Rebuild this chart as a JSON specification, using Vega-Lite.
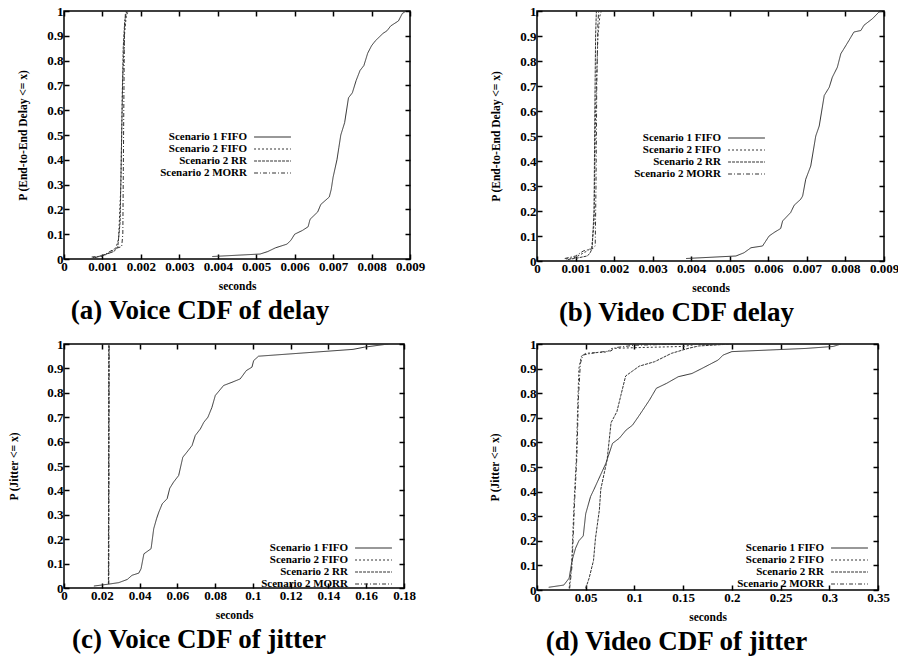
{
"$schema": "https://vega.github.io/schema/vega-lite/v6.json",
"padding": {"left": 8, "top": 4, "right": 0, "bottom": 0},
"background": "white",
"config": {
  "view": {"stroke": "#000", "strokeWidth": 1.5},
  "axis": {"labelFont": "Liberation Serif", "labelFontWeight": "bold", "labelFontSize": 13, "labelColor": "#000", "labelOverlap": false, "labelFlush": false, "titleFont": "Liberation Serif", "titleFontWeight": "bold", "titleFontSize": 11.5, "titleColor": "#000", "domain": false, "grid": false, "tickColor": "#000", "tickWidth": 1.5, "tickSize": -5, "labelPadding": 6},
  "axisY": {"titlePadding": 18},
  "axisX": {"titlePadding": 7},
  "title": {"font": "Liberation Serif", "fontWeight": "bold", "fontSize": 27, "color": "#000"},
  "legend": {"title": null, "orient": "none", "labelAlign": "right", "labelOffset": -31, "symbolType": "M-4.1,0H4.1", "symbolSize": 81, "symbolStrokeWidth": 1.2, "symbolStrokeColor": "#333333", "symbolFillColor": "transparent", "symbolOpacity": 1, "rowPadding": 0, "padding": 0, "labelFont": "Liberation Serif", "labelFontWeight": "bold", "labelFontSize": 11, "labelColor": "#000", "labelLimit": 300}
},
"datasets": {
"a": [
{"s":"Scenario 1 FIFO","x":0.00386,"y":0.01},{"s":"Scenario 1 FIFO","x":0.0051,"y":0.02},{"s":"Scenario 1 FIFO","x":0.0053,"y":0.03},{"s":"Scenario 1 FIFO","x":0.0055,"y":0.045},{"s":"Scenario 1 FIFO","x":0.0058,"y":0.06},{"s":"Scenario 1 FIFO","x":0.0059,"y":0.075},{"s":"Scenario 1 FIFO","x":0.006,"y":0.1},{"s":"Scenario 1 FIFO","x":0.0062,"y":0.115},{"s":"Scenario 1 FIFO","x":0.00635,"y":0.13},{"s":"Scenario 1 FIFO","x":0.0064,"y":0.16},{"s":"Scenario 1 FIFO","x":0.0066,"y":0.19},{"s":"Scenario 1 FIFO","x":0.00668,"y":0.22},{"s":"Scenario 1 FIFO","x":0.0069,"y":0.25},{"s":"Scenario 1 FIFO","x":0.00695,"y":0.28},{"s":"Scenario 1 FIFO","x":0.007,"y":0.33},{"s":"Scenario 1 FIFO","x":0.0071,"y":0.4},{"s":"Scenario 1 FIFO","x":0.00715,"y":0.45},{"s":"Scenario 1 FIFO","x":0.0072,"y":0.5},{"s":"Scenario 1 FIFO","x":0.0073,"y":0.55},{"s":"Scenario 1 FIFO","x":0.0074,"y":0.65},{"s":"Scenario 1 FIFO","x":0.0075,"y":0.67},{"s":"Scenario 1 FIFO","x":0.0076,"y":0.72},{"s":"Scenario 1 FIFO","x":0.0077,"y":0.76},{"s":"Scenario 1 FIFO","x":0.0078,"y":0.78},{"s":"Scenario 1 FIFO","x":0.0079,"y":0.83},{"s":"Scenario 1 FIFO","x":0.008,"y":0.86},{"s":"Scenario 1 FIFO","x":0.0081,"y":0.88},{"s":"Scenario 1 FIFO","x":0.0083,"y":0.91},{"s":"Scenario 1 FIFO","x":0.0084,"y":0.92},{"s":"Scenario 1 FIFO","x":0.0085,"y":0.94},{"s":"Scenario 1 FIFO","x":0.0087,"y":0.96},{"s":"Scenario 1 FIFO","x":0.0088,"y":0.99},{"s":"Scenario 1 FIFO","x":0.0089,"y":1.0},
{"s":"Scenario 2 FIFO","x":0.00075,"y":0.006},{"s":"Scenario 2 FIFO","x":0.001,"y":0.012},{"s":"Scenario 2 FIFO","x":0.0012,"y":0.025},{"s":"Scenario 2 FIFO","x":0.00135,"y":0.045},{"s":"Scenario 2 FIFO","x":0.00142,"y":0.08},{"s":"Scenario 2 FIFO","x":0.00148,"y":0.3},{"s":"Scenario 2 FIFO","x":0.00152,"y":0.7},{"s":"Scenario 2 FIFO","x":0.00158,"y":0.92},{"s":"Scenario 2 FIFO","x":0.00162,"y":0.98},{"s":"Scenario 2 FIFO","x":0.00167,"y":1.0},
{"s":"Scenario 2 RR","x":0.0008,"y":0.005},{"s":"Scenario 2 RR","x":0.001,"y":0.015},{"s":"Scenario 2 RR","x":0.0013,"y":0.03},{"s":"Scenario 2 RR","x":0.0014,"y":0.05},{"s":"Scenario 2 RR","x":0.00146,"y":0.15},{"s":"Scenario 2 RR","x":0.0015,"y":0.5},{"s":"Scenario 2 RR","x":0.00154,"y":0.85},{"s":"Scenario 2 RR","x":0.00158,"y":0.96},{"s":"Scenario 2 RR","x":0.00163,"y":1.0},
{"s":"Scenario 2 MORR","x":0.00072,"y":0.008},{"s":"Scenario 2 MORR","x":0.001,"y":0.012},{"s":"Scenario 2 MORR","x":0.0013,"y":0.04},{"s":"Scenario 2 MORR","x":0.0015,"y":0.05},{"s":"Scenario 2 MORR","x":0.00153,"y":0.1},{"s":"Scenario 2 MORR","x":0.00155,"y":0.5},{"s":"Scenario 2 MORR","x":0.00157,"y":0.9},{"s":"Scenario 2 MORR","x":0.0016,"y":1.0}
],
"b": [
{"s":"Scenario 1 FIFO","x":0.00387,"y":0.01},{"s":"Scenario 1 FIFO","x":0.00516,"y":0.02},{"s":"Scenario 1 FIFO","x":0.00537,"y":0.033},{"s":"Scenario 1 FIFO","x":0.00555,"y":0.053},{"s":"Scenario 1 FIFO","x":0.00585,"y":0.06},{"s":"Scenario 1 FIFO","x":0.00602,"y":0.1},{"s":"Scenario 1 FIFO","x":0.00615,"y":0.114},{"s":"Scenario 1 FIFO","x":0.00632,"y":0.13},{"s":"Scenario 1 FIFO","x":0.00637,"y":0.16},{"s":"Scenario 1 FIFO","x":0.00658,"y":0.194},{"s":"Scenario 1 FIFO","x":0.00667,"y":0.223},{"s":"Scenario 1 FIFO","x":0.00684,"y":0.247},{"s":"Scenario 1 FIFO","x":0.00689,"y":0.26},{"s":"Scenario 1 FIFO","x":0.00697,"y":0.327},{"s":"Scenario 1 FIFO","x":0.0071,"y":0.38},{"s":"Scenario 1 FIFO","x":0.00723,"y":0.5},{"s":"Scenario 1 FIFO","x":0.00732,"y":0.54},{"s":"Scenario 1 FIFO","x":0.00745,"y":0.662},{"s":"Scenario 1 FIFO","x":0.00758,"y":0.695},{"s":"Scenario 1 FIFO","x":0.00766,"y":0.735},{"s":"Scenario 1 FIFO","x":0.00779,"y":0.775},{"s":"Scenario 1 FIFO","x":0.00788,"y":0.829},{"s":"Scenario 1 FIFO","x":0.00796,"y":0.849},{"s":"Scenario 1 FIFO","x":0.00809,"y":0.882},{"s":"Scenario 1 FIFO","x":0.00822,"y":0.916},{"s":"Scenario 1 FIFO","x":0.0084,"y":0.922},{"s":"Scenario 1 FIFO","x":0.00848,"y":0.943},{"s":"Scenario 1 FIFO","x":0.0087,"y":0.969},{"s":"Scenario 1 FIFO","x":0.00887,"y":0.996},{"s":"Scenario 1 FIFO","x":0.00896,"y":1.0},
{"s":"Scenario 2 FIFO","x":0.00075,"y":0.008},{"s":"Scenario 2 FIFO","x":0.001,"y":0.015},{"s":"Scenario 2 FIFO","x":0.0013,"y":0.04},{"s":"Scenario 2 FIFO","x":0.00142,"y":0.055},{"s":"Scenario 2 FIFO","x":0.00148,"y":0.15},{"s":"Scenario 2 FIFO","x":0.00152,"y":0.6},{"s":"Scenario 2 FIFO","x":0.00158,"y":0.9},{"s":"Scenario 2 FIFO","x":0.00163,"y":0.98},{"s":"Scenario 2 FIFO","x":0.00167,"y":1.0},
{"s":"Scenario 2 RR","x":0.0008,"y":0.006},{"s":"Scenario 2 RR","x":0.00105,"y":0.012},{"s":"Scenario 2 RR","x":0.0013,"y":0.02},{"s":"Scenario 2 RR","x":0.00137,"y":0.03},{"s":"Scenario 2 RR","x":0.00143,"y":0.05},{"s":"Scenario 2 RR","x":0.00148,"y":0.2},{"s":"Scenario 2 RR","x":0.0015,"y":0.6},{"s":"Scenario 2 RR","x":0.00152,"y":0.9},{"s":"Scenario 2 RR","x":0.00154,"y":1.0},
{"s":"Scenario 2 MORR","x":0.00072,"y":0.01},{"s":"Scenario 2 MORR","x":0.001,"y":0.02},{"s":"Scenario 2 MORR","x":0.0012,"y":0.04},{"s":"Scenario 2 MORR","x":0.00145,"y":0.05},{"s":"Scenario 2 MORR","x":0.00151,"y":0.06},{"s":"Scenario 2 MORR","x":0.00153,"y":0.3},{"s":"Scenario 2 MORR","x":0.00155,"y":0.7},{"s":"Scenario 2 MORR","x":0.00158,"y":0.95},{"s":"Scenario 2 MORR","x":0.0016,"y":1.0}
],
"c": [
{"s":"Scenario 1 FIFO","x":0.0158,"y":0.008},{"s":"Scenario 1 FIFO","x":0.0238,"y":0.016},{"s":"Scenario 1 FIFO","x":0.029,"y":0.022},{"s":"Scenario 1 FIFO","x":0.0335,"y":0.035},{"s":"Scenario 1 FIFO","x":0.036,"y":0.052},{"s":"Scenario 1 FIFO","x":0.0396,"y":0.061},{"s":"Scenario 1 FIFO","x":0.0408,"y":0.079},{"s":"Scenario 1 FIFO","x":0.0423,"y":0.14},{"s":"Scenario 1 FIFO","x":0.0461,"y":0.161},{"s":"Scenario 1 FIFO","x":0.0475,"y":0.243},{"s":"Scenario 1 FIFO","x":0.049,"y":0.284},{"s":"Scenario 1 FIFO","x":0.0502,"y":0.311},{"s":"Scenario 1 FIFO","x":0.052,"y":0.345},{"s":"Scenario 1 FIFO","x":0.0546,"y":0.366},{"s":"Scenario 1 FIFO","x":0.056,"y":0.409},{"s":"Scenario 1 FIFO","x":0.058,"y":0.434},{"s":"Scenario 1 FIFO","x":0.0607,"y":0.461},{"s":"Scenario 1 FIFO","x":0.0629,"y":0.536},{"s":"Scenario 1 FIFO","x":0.0651,"y":0.557},{"s":"Scenario 1 FIFO","x":0.0678,"y":0.584},{"s":"Scenario 1 FIFO","x":0.0695,"y":0.625},{"s":"Scenario 1 FIFO","x":0.0722,"y":0.652},{"s":"Scenario 1 FIFO","x":0.074,"y":0.679},{"s":"Scenario 1 FIFO","x":0.0762,"y":0.7},{"s":"Scenario 1 FIFO","x":0.0783,"y":0.74},{"s":"Scenario 1 FIFO","x":0.0801,"y":0.789},{"s":"Scenario 1 FIFO","x":0.0845,"y":0.83},{"s":"Scenario 1 FIFO","x":0.0889,"y":0.843},{"s":"Scenario 1 FIFO","x":0.0933,"y":0.857},{"s":"Scenario 1 FIFO","x":0.0965,"y":0.891},{"s":"Scenario 1 FIFO","x":0.0995,"y":0.905},{"s":"Scenario 1 FIFO","x":0.1004,"y":0.932},{"s":"Scenario 1 FIFO","x":0.103,"y":0.95},{"s":"Scenario 1 FIFO","x":0.153,"y":0.978},{"s":"Scenario 1 FIFO","x":0.159,"y":0.987},{"s":"Scenario 1 FIFO","x":0.1717,"y":1.0},
{"s":"Scenario 2 FIFO","x":0.0235,"y":0.018},{"s":"Scenario 2 FIFO","x":0.0236,"y":0.5},{"s":"Scenario 2 FIFO","x":0.0237,"y":1.0},
{"s":"Scenario 2 RR","x":0.0236,"y":0.017},{"s":"Scenario 2 RR","x":0.0237,"y":0.5},{"s":"Scenario 2 RR","x":0.0238,"y":1.0},
{"s":"Scenario 2 MORR","x":0.0237,"y":0.016},{"s":"Scenario 2 MORR","x":0.0238,"y":0.5},{"s":"Scenario 2 MORR","x":0.0239,"y":1.0}
],
"d": [
{"s":"Scenario 1 FIFO","x":0.012,"y":0.011},{"s":"Scenario 1 FIFO","x":0.0275,"y":0.02},{"s":"Scenario 1 FIFO","x":0.033,"y":0.048},{"s":"Scenario 1 FIFO","x":0.036,"y":0.12},{"s":"Scenario 1 FIFO","x":0.0396,"y":0.17},{"s":"Scenario 1 FIFO","x":0.043,"y":0.2},{"s":"Scenario 1 FIFO","x":0.0475,"y":0.22},{"s":"Scenario 1 FIFO","x":0.05,"y":0.31},{"s":"Scenario 1 FIFO","x":0.055,"y":0.38},{"s":"Scenario 1 FIFO","x":0.0586,"y":0.41},{"s":"Scenario 1 FIFO","x":0.0655,"y":0.47},{"s":"Scenario 1 FIFO","x":0.0707,"y":0.515},{"s":"Scenario 1 FIFO","x":0.0775,"y":0.596},{"s":"Scenario 1 FIFO","x":0.0845,"y":0.617},{"s":"Scenario 1 FIFO","x":0.0914,"y":0.65},{"s":"Scenario 1 FIFO","x":0.098,"y":0.67},{"s":"Scenario 1 FIFO","x":0.105,"y":0.71},{"s":"Scenario 1 FIFO","x":0.1154,"y":0.772},{"s":"Scenario 1 FIFO","x":0.1225,"y":0.82},{"s":"Scenario 1 FIFO","x":0.133,"y":0.84},{"s":"Scenario 1 FIFO","x":0.145,"y":0.867},{"s":"Scenario 1 FIFO","x":0.159,"y":0.88},{"s":"Scenario 1 FIFO","x":0.169,"y":0.9},{"s":"Scenario 1 FIFO","x":0.186,"y":0.935},{"s":"Scenario 1 FIFO","x":0.191,"y":0.955},{"s":"Scenario 1 FIFO","x":0.2,"y":0.969},{"s":"Scenario 1 FIFO","x":0.276,"y":0.982},{"s":"Scenario 1 FIFO","x":0.304,"y":0.99},{"s":"Scenario 1 FIFO","x":0.312,"y":1.0},
{"s":"Scenario 2 FIFO","x":0.033,"y":0.007},{"s":"Scenario 2 FIFO","x":0.0355,"y":0.1},{"s":"Scenario 2 FIFO","x":0.038,"y":0.35},{"s":"Scenario 2 FIFO","x":0.0403,"y":0.53},{"s":"Scenario 2 FIFO","x":0.0418,"y":0.75},{"s":"Scenario 2 FIFO","x":0.043,"y":0.9},{"s":"Scenario 2 FIFO","x":0.0455,"y":0.95},{"s":"Scenario 2 FIFO","x":0.05,"y":0.962},{"s":"Scenario 2 FIFO","x":0.072,"y":0.968},{"s":"Scenario 2 FIFO","x":0.077,"y":0.982},{"s":"Scenario 2 FIFO","x":0.1,"y":0.985},{"s":"Scenario 2 FIFO","x":0.15,"y":0.99},{"s":"Scenario 2 FIFO","x":0.163,"y":0.998},{"s":"Scenario 2 FIFO","x":0.2,"y":1.0},
{"s":"Scenario 2 RR","x":0.05,"y":0.007},{"s":"Scenario 2 RR","x":0.0535,"y":0.048},{"s":"Scenario 2 RR","x":0.058,"y":0.12},{"s":"Scenario 2 RR","x":0.06,"y":0.21},{"s":"Scenario 2 RR","x":0.064,"y":0.325},{"s":"Scenario 2 RR","x":0.0655,"y":0.41},{"s":"Scenario 2 RR","x":0.069,"y":0.475},{"s":"Scenario 2 RR","x":0.072,"y":0.53},{"s":"Scenario 2 RR","x":0.076,"y":0.68},{"s":"Scenario 2 RR","x":0.082,"y":0.725},{"s":"Scenario 2 RR","x":0.086,"y":0.79},{"s":"Scenario 2 RR","x":0.091,"y":0.87},{"s":"Scenario 2 RR","x":0.098,"y":0.89},{"s":"Scenario 2 RR","x":0.105,"y":0.91},{"s":"Scenario 2 RR","x":0.1207,"y":0.928},{"s":"Scenario 2 RR","x":0.138,"y":0.962},{"s":"Scenario 2 RR","x":0.155,"y":0.982},{"s":"Scenario 2 RR","x":0.166,"y":0.992},{"s":"Scenario 2 RR","x":0.2,"y":1.0},
{"s":"Scenario 2 MORR","x":0.0335,"y":0.006},{"s":"Scenario 2 MORR","x":0.036,"y":0.1},{"s":"Scenario 2 MORR","x":0.0385,"y":0.35},{"s":"Scenario 2 MORR","x":0.041,"y":0.55},{"s":"Scenario 2 MORR","x":0.0425,"y":0.78},{"s":"Scenario 2 MORR","x":0.0445,"y":0.92},{"s":"Scenario 2 MORR","x":0.047,"y":0.955},{"s":"Scenario 2 MORR","x":0.06,"y":0.965},{"s":"Scenario 2 MORR","x":0.076,"y":0.972},{"s":"Scenario 2 MORR","x":0.08,"y":0.985},{"s":"Scenario 2 MORR","x":0.1,"y":0.995},{"s":"Scenario 2 MORR","x":0.15,"y":1.0}
]
},
"columns": 2,
"spacing": {"row": 10, "column": 63},
"resolve": {"scale": {"strokeDash": "independent"}, "legend": {"strokeDash": "independent"}},
"concat": [
{
 "width": 346, "height": 248,
 "data": {"name": "a"},
 "title": {"text": "(a) Voice CDF of delay", "orient": "bottom", "anchor": "middle", "dx": -37, "offset": 6},
 "resolve": {"axis": {"x": "independent", "y": "independent"}},
 "layer": [
  {"mark": {"type": "line", "strokeWidth": 1, "clip": true, "color": "#333333"},
   "encoding": {
    "x": {"field": "x", "type": "quantitative", "scale": {"domain": [0, 0.009]}, "axis": {"orient": "bottom", "values": [0,0.001,0.002,0.003,0.004,0.005,0.006,0.007,0.008,0.009], "format": ".3~f", "title": "seconds"}},
    "y": {"field": "y", "type": "quantitative", "scale": {"domain": [0, 1]}, "axis": {"orient": "left", "values": [0,0.1,0.2,0.3,0.4,0.5,0.6,0.7,0.8,0.9,1], "format": ".1~f", "title": "P (End-to-End Delay <= x)"}},
    "order": {"field": "y", "type": "quantitative"},
    "strokeDash": {"field": "s", "type": "nominal", "scale": {"domain": ["Scenario 1 FIFO","Scenario 2 FIFO","Scenario 2 RR","Scenario 2 MORR"], "range": [[1,0],[2,2],[3,1],[4,2,1,2]]}, "legend": {"legendX": 203, "legendY": 120.5}}
   }},
  {"mark": {"type": "point", "size": 0, "opacity": 0},
   "encoding": {
    "x": {"field": "x", "type": "quantitative", "axis": {"orient": "top", "labels": false, "title": null, "values": [0,0.001,0.002,0.003,0.004,0.005,0.006,0.007,0.008,0.009]}},
    "y": {"field": "y", "type": "quantitative", "axis": {"orient": "right", "labels": false, "title": null, "values": [0,0.1,0.2,0.3,0.4,0.5,0.6,0.7,0.8,0.9,1]}}
   }}
 ]
},
{
 "width": 347, "height": 250,
 "data": {"name": "b"},
 "title": {"text": "(b) Video CDF delay", "orient": "bottom", "anchor": "middle", "dx": -34, "offset": 6},
 "resolve": {"axis": {"x": "independent", "y": "independent"}},
 "layer": [
  {"mark": {"type": "line", "strokeWidth": 1, "clip": true, "color": "#333333"},
   "encoding": {
    "x": {"field": "x", "type": "quantitative", "scale": {"domain": [0, 0.009]}, "axis": {"orient": "bottom", "values": [0,0.001,0.002,0.003,0.004,0.005,0.006,0.007,0.008,0.009], "format": ".3~f", "title": "seconds"}},
    "y": {"field": "y", "type": "quantitative", "scale": {"domain": [0, 1]}, "axis": {"orient": "left", "values": [0,0.1,0.2,0.3,0.4,0.5,0.6,0.7,0.8,0.9,1], "format": ".1~f", "title": "P (End-to-End Delay <= x)"}},
    "order": {"field": "y", "type": "quantitative"},
    "strokeDash": {"field": "s", "type": "nominal", "scale": {"domain": ["Scenario 1 FIFO","Scenario 2 FIFO","Scenario 2 RR","Scenario 2 MORR"], "range": [[1,0],[2,2],[3,1],[4,2,1,2]]}, "legend": {"legendX": 204, "legendY": 121.5}}
   }},
  {"mark": {"type": "point", "size": 0, "opacity": 0},
   "encoding": {
    "x": {"field": "x", "type": "quantitative", "axis": {"orient": "top", "labels": false, "title": null, "values": [0,0.001,0.002,0.003,0.004,0.005,0.006,0.007,0.008,0.009]}},
    "y": {"field": "y", "type": "quantitative", "axis": {"orient": "right", "labels": false, "title": null, "values": [0,0.1,0.2,0.3,0.4,0.5,0.6,0.7,0.8,0.9,1]}}
   }}
 ]
},
{
 "width": 340, "height": 244,
 "data": {"name": "c"},
 "title": {"text": "(c) Voice CDF of jitter", "orient": "bottom", "anchor": "middle", "dx": -35, "offset": 6},
 "resolve": {"axis": {"x": "independent", "y": "independent"}},
 "layer": [
  {"mark": {"type": "line", "strokeWidth": 1, "clip": true, "color": "#333333"},
   "encoding": {
    "x": {"field": "x", "type": "quantitative", "scale": {"domain": [0, 0.18]}, "axis": {"orient": "bottom", "values": [0,0.02,0.04,0.06,0.08,0.1,0.12,0.14,0.16,0.18], "format": ".2~f", "title": "seconds"}},
    "y": {"field": "y", "type": "quantitative", "scale": {"domain": [0, 1]}, "axis": {"orient": "left", "values": [0,0.1,0.2,0.3,0.4,0.5,0.6,0.7,0.8,0.9,1], "format": ".1~f", "title": "P (Jitter <= x)", "titlePadding": 27}},
    "order": {"field": "y", "type": "quantitative"},
    "strokeDash": {"field": "s", "type": "nominal", "scale": {"domain": ["Scenario 1 FIFO","Scenario 2 FIFO","Scenario 2 RR","Scenario 2 MORR"], "range": [[1,0],[2,2],[3,1],[4,2,1,2]]}, "legend": {"legendX": 304, "legendY": 198.5}}
   }},
  {"mark": {"type": "point", "size": 0, "opacity": 0},
   "encoding": {
    "x": {"field": "x", "type": "quantitative", "axis": {"orient": "top", "labels": false, "title": null, "values": [0,0.02,0.04,0.06,0.08,0.1,0.12,0.14,0.16,0.18]}},
    "y": {"field": "y", "type": "quantitative", "axis": {"orient": "right", "labels": false, "title": null, "values": [0,0.1,0.2,0.3,0.4,0.5,0.6,0.7,0.8,0.9,1]}}
   }}
 ]
},
{
 "width": 341, "height": 246,
 "data": {"name": "d"},
 "title": {"text": "(d) Video CDF of jitter", "orient": "bottom", "anchor": "middle", "dx": -31, "offset": 6},
 "resolve": {"axis": {"x": "independent", "y": "independent"}},
 "layer": [
  {"mark": {"type": "line", "strokeWidth": 1, "clip": true, "color": "#333333"},
   "encoding": {
    "x": {"field": "x", "type": "quantitative", "scale": {"domain": [0, 0.35]}, "axis": {"orient": "bottom", "values": [0,0.05,0.1,0.15,0.2,0.25,0.3,0.35], "format": ".2~f", "title": "seconds"}},
    "y": {"field": "y", "type": "quantitative", "scale": {"domain": [0, 1]}, "axis": {"orient": "left", "values": [0,0.1,0.2,0.3,0.4,0.5,0.6,0.7,0.8,0.9,1], "format": ".1~f", "title": "P (Jitter <= x)", "titlePadding": 19}},
    "order": {"field": "y", "type": "quantitative"},
    "strokeDash": {"field": "s", "type": "nominal", "scale": {"domain": ["Scenario 1 FIFO","Scenario 2 FIFO","Scenario 2 RR","Scenario 2 MORR"], "range": [[1,0],[2,2],[3,1],[4,2,1,2]]}, "legend": {"legendX": 307, "legendY": 198.5}}
   }},
  {"mark": {"type": "point", "size": 0, "opacity": 0},
   "encoding": {
    "x": {"field": "x", "type": "quantitative", "axis": {"orient": "top", "labels": false, "title": null, "values": [0,0.05,0.1,0.15,0.2,0.25,0.3,0.35]}},
    "y": {"field": "y", "type": "quantitative", "axis": {"orient": "right", "labels": false, "title": null, "values": [0,0.1,0.2,0.3,0.4,0.5,0.6,0.7,0.8,0.9,1]}}
   }}
 ]
}
]
}
